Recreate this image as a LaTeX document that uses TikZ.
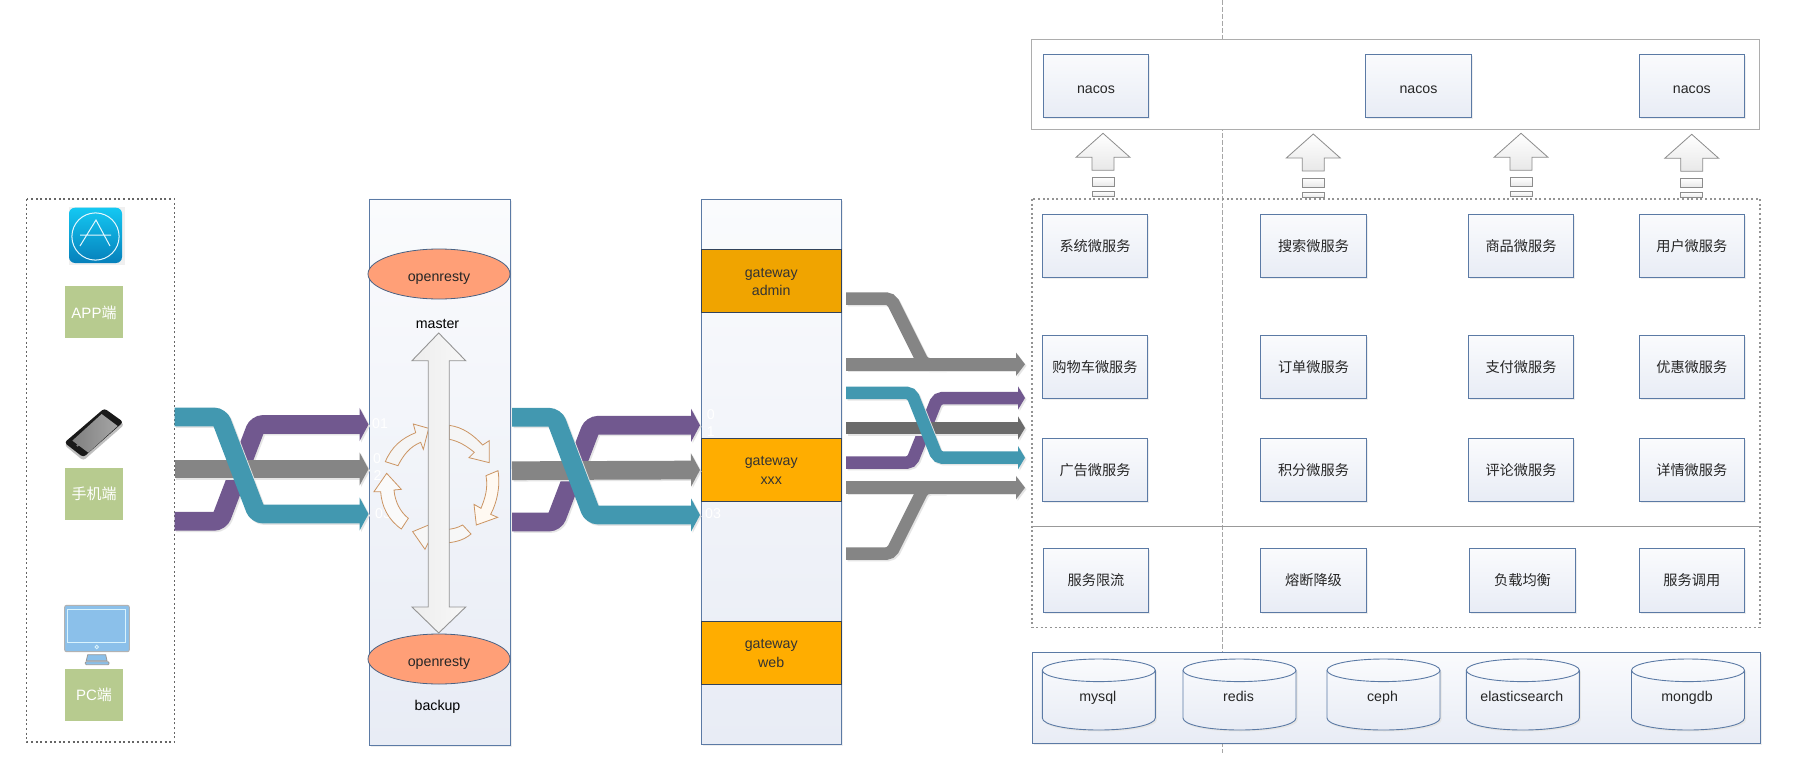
\documentclass[tikz,border=0pt]{standalone}
\usepackage{fontspec}
\setmainfont{Liberation Sans}
\newfontfamily\cjk{Noto Sans CJK SC}
\usetikzlibrary{shapes.geometric,arrows.meta,shadows,calc}
\definecolor{bluebd}{HTML}{5B7AA5}
\definecolor{gtop}{HTML}{FAFBFD}
\definecolor{gbot}{HTML}{E8ECF5}
\definecolor{teal1}{HTML}{4298B0}
\definecolor{purp1}{HTML}{71588F}
\definecolor{gray1}{HTML}{858585}
\definecolor{gray2}{HTML}{6B6B6B}
\definecolor{green1}{HTML}{B7CB8F}
\definecolor{sal}{HTML}{FF9F77}
\definecolor{circ}{HTML}{CB9462}
\definecolor{org1}{HTML}{F0A400}
\definecolor{org2}{HTML}{FFAD00}
\definecolor{mon}{HTML}{8BC0EA}
\definecolor{apptop}{HTML}{14C8F2}
\definecolor{appbot}{HTML}{0680BB}
\tikzset{
  softshadow/.style={drop shadow={opacity=.13,shadow xshift=1.6pt,shadow yshift=-1.6pt}},
  latintext/.style={text height=14.2pt,text depth=0pt},
  lbltext/.style={text height=10pt,text depth=2.8pt},
  gradbox/.style={rectangle,draw=bluebd,line width=.9pt,top color=gtop,bottom color=gbot,inner sep=0pt,text=black!85,font=\fontsize{14.2}{16}\selectfont},
  svc/.style={gradbox,softshadow,minimum width=105.4pt,minimum height=63.4pt},
  panel/.style={gradbox,softshadow},
  client/.style={rectangle,fill=green1,inner sep=0pt,minimum width=58pt,minimum height=52pt,text=white,font=\fontsize{15}{17}\selectfont},
  gw/.style={rectangle,draw=black!45!bluebd,line width=.8pt,inner sep=0pt,minimum width=140.3pt,minimum height=63.2pt},
  gwtext/.style={inner sep=0pt,align=center,text=black!80,font=\fontsize{14.2}{18.5}\selectfont},
  oval/.style={ellipse,draw=bluebd!80!black,line width=.8pt,fill=sal,inner sep=0pt,minimum width=142pt,minimum height=50pt,text=black!85,latintext,font=\fontsize{14.2}{16}\selectfont},
  dbtext/.style={inner sep=0pt,text=black!85,latintext,font=\fontsize{14.2}{16}\selectfont},
  dotbox/.style={line width=1.1pt,dash pattern=on 2pt off 2.6pt},
  lbl/.style={font=\fontsize{14.2}{16}\selectfont,inner sep=0pt,lbltext},
  wlbl/.style={lbl,text=white},
  blockarrow/.style={draw=black!45,line width=.8pt,top color=white,bottom color=black!9},
  ringarrow/.style={draw=circ,line width=.8pt,fill=#1},
  cylbody/.style={draw=bluebd,line width=.9pt,top color=gtop,bottom color=gbot},
}
\newcommand{\flowbig}[2]{%
  \draw[line width=18.7pt,rounded corners=6pt,draw=black!10,-{Triangle[length=9pt,width=33pt]},transform canvas={xshift=1.5pt,yshift=-1.5pt}] #2;
  \draw[line width=18.7pt,rounded corners=6pt,draw=#1,-{Triangle[length=9pt,width=33pt]}] #2;}
\newcommand{\flowsmall}[2]{%
  \draw[line width=12.5pt,rounded corners=5pt,draw=black!10,-{Triangle[length=#1,width=23pt]},transform canvas={xshift=1.5pt,yshift=-1.5pt}] #2;}
\newcommand{\flowsolid}[3]{%
  \draw[line width=12.5pt,rounded corners=5pt,draw=#2,-{Triangle[length=#1,width=23pt]}] #3;}
\newcommand{\flowthin}[3]{\flowsmall{#1}{#3}\flowsolid{#1}{#2}{#3}}
\newcommand{\flowmerge}[1]{%
  \draw[line width=12.5pt,rounded corners=5pt,draw=black!10,transform canvas={xshift=1.5pt,yshift=-1.5pt}] #1;
  \draw[line width=12.5pt,rounded corners=5pt,draw=gray1] #1;}
\newcommand{\stripedup}[2]{%
  \begin{scope}[shift={(#1,#2)}]
    \draw[blockarrow] (0,0)--(27,24)--(11,24)--(11,37)--(-11,37)--(-11,24)--(-27,24)--cycle;
    \draw[blockarrow] (-11,44) rectangle (11,53);
    \draw[blockarrow] (-11,58) rectangle (11,63.4);
  \end{scope}}
% centre x, node name, text
\newcommand{\dbcyl}[3]{%
  \begin{scope}[shift={(#1,0)}]
    \fill[black!10] (-55,672) .. controls (-55,665) and (-31,660.5) .. (1.5,660.5) .. controls (31,660.5) and (58,665) .. (58,672) -- (58,720) .. controls (58,727) and (31,731.5) .. (1.5,731.5) .. controls (-31,731.5) and (-55,727) .. (-55,720) -- cycle;
    \draw[cylbody] (-56.5,670.3) .. controls (-56.5,664) and (-31,659) .. (0,659) .. controls (31,659) and (56.5,664) .. (56.5,670.3) -- (56.5,718) .. controls (56.5,725) and (31,730) .. (0,730) .. controls (-31,730) and (-56.5,725) .. (-56.5,718) -- cycle;
    \draw[draw=bluebd,line width=.9pt] (-56.5,670.3) .. controls (-56.5,676.5) and (-31,681.6) .. (0,681.6) .. controls (31,681.6) and (56.5,676.5) .. (56.5,670.3);
  \end{scope}
  \node[dbtext] (#2) at (#1-1,694) {#3};}
\begin{document}
\begin{tikzpicture}[x=1pt,y=-1pt]
\useasboundingbox (0,0) rectangle (1817,773);
\fill[white] (0,0) rectangle (1817,773);

% centre guide
\coordinate (vtop) at (1222.3,0);
\coordinate (vbot) at (1222.3,752.7);
\draw[black!35,line width=.9pt,dash pattern=on 5pt off 2pt] (vtop)--(vbot);

% left client box
\draw[dotbox,draw=black!60] (26.7,199) rectangle (174.5,742);
% app icon
\fill[black!6] (69,207) rectangle (125,265);
\shade[top color=apptop,bottom color=appbot,rounded corners=6pt] (69,207.7) rectangle (122,263);
\draw[white!90!cyan,line width=1pt] (95.5,236.5) circle[radius=23.6];
\draw[white!90!cyan,line width=1pt] (80,246)--(96,220)--(110,246) (80,235)--(111,235);
\node[client] (app) at (94,312.4) {APP{\cjk 端}};
% phone
\begin{scope}[shift={(55,400)},x=.3333pt,y=-.3333pt]
  \fill[black!25,rounded corners=3pt] (28,135)--(148,30)--(208,74)--(85,182)--cycle;
  \fill[black!90,rounded corners=3pt] (28,128)--(148,25)--(205,66)--(85,172)--cycle;
  \shade[left color=black!50,right color=black!35] (52,122)--(140,42)--(188,78)--(100,158)--cycle;
  \fill[black!50] (68,136) circle[radius=4];
\end{scope}
\node[client] (phone) at (94,493.5) {{\cjk 手机端}};
% monitor
\draw[draw=black!30,line width=1pt,fill=mon,rounded corners=2pt] (64.7,605.3) rectangle (129.3,651.7);
\draw[draw=cyan!15,line width=.9pt] (67.3,609.3) rectangle (125.7,642.3);
\draw[draw=cyan!15,line width=.9pt] (96.7,647) circle[radius=1.8];
\draw[draw=black!40,line width=.8pt,fill=mon] (87.7,654.7)--(105.7,654.7)--(107,660.7)--(86.3,660.7)--cycle;
\draw[draw=black!40,line width=.8pt,fill=mon,rounded corners=1pt] (85.3,661.7) rectangle (109,664.7);
\node[client] (pc) at (94,695) {PC{\cjk 端}};

% openresty panel
\node[panel,minimum width=141pt,minimum height=546.7pt] (lb) at (439.5,472.3) {};
\node[oval] (or1) at (439,274) {openresty};
\node[oval] (or2) at (439,659) {openresty};
\node[lbl] (master) at (437.5,325) {master};
\node[lbl] (backup) at (437.5,706.5) {backup};

% gateway panel
\node[panel,minimum width=140.3pt,minimum height=544.7pt] (gwp) at (771.2,471.6) {};
\node[gw,fill=org1] (gw1) at (771.2,280.8) {};
\node[gw,fill=org2] (gw2) at (771.2,469.5) {};
\node[gw,fill=org2] (gw3) at (771.2,652.5) {};
\node[gwtext] (gw1t) at ([yshift=-1pt]gw1.center) {gateway\\admin};
\node[gwtext] (gw2t) at ([yshift=-1pt]gw2.center) {gateway\\xxx};
\node[gwtext] (gw3t) at ([yshift=-1pt]gw3.center) {gateway\\web};

% faint labels
\node[wlbl] at (380,424.5) {01};
\node[wlbl] at (377,460) {0};
\node[wlbl] at (377.5,477) {2};
\node[wlbl] at (383,515) {03};
\node[wlbl] at (710.7,416) {0};
\node[wlbl] at (710.7,433) {1};
\node[wlbl] at (713,515) {03};

% ring of arrows
\begin{scope}[shift={(370,410)},x=.3333pt,y=-.3333pt]
  \draw[ringarrow=black!4] (46,155) .. controls (65,110) and (95,85) .. (137,68) -- (130,42) -- (176,55) -- (160,118) -- (152,97) .. controls (120,110) and (100,135) .. (84,167) -- cycle;
  \draw[ringarrow=red!3!black!4] (238,46) .. controls (280,52) and (310,75) .. (338,105) -- (358,92) -- (358,158) -- (297,143) -- (313,127) .. controls (290,108) and (265,93) .. (238,88) -- cycle;
  \draw[ringarrow=orange!5] (348,197) -- (384,182) .. controls (392,230) and (380,280) .. (362,313) -- (383,322) -- (319,345) -- (312,283) -- (333,295) .. controls (345,265) and (355,235) .. (348,197) -- cycle;
  \draw[ringarrow=black!3] (303,372) -- (278,345) .. controls (262,354) and (250,356) .. (236,358) -- (236,398) .. controls (260,396) and (285,388) .. (303,372) -- cycle;
  \draw[ringarrow=black!3] (176,345) -- (128,365) -- (165,418) -- (176,396) -- cycle;
  \draw[ringarrow=black!2] (115,325) -- (94,357) .. controls (55,330) and (35,290) .. (32,245) -- (12,245) -- (50,190) -- (94,238) -- (72,240) .. controls (75,275) and (90,305) .. (115,325) -- cycle;
\end{scope}

% vertical double arrow
\draw[draw=black!42,line width=.9pt,left color=black!7,right color=black!3]
  (438.7,333)--(465.7,360.7)--(449.2,360.7)--(449.2,607)--(465.7,607)--(438.7,633)--(412,607)--(428.2,607)--(428.2,360.7)--(412,360.7)--cycle;

% flows client -> openresty
\coordinate (a1) at (174.5,417);
\coordinate (a2) at (174.5,469);
\coordinate (a3) at (174.5,521.3);
\coordinate (a4) at (368.5,424.5);
\coordinate (a5) at (368.5,469);
\coordinate (a6) at (368.5,514);
\flowbig{purp1}{(a3) -- (220,521.3) -- (257,424.5) -- (a4)}
\flowbig{gray1}{(a2) -- (a5)}
\flowbig{teal1}{(a1) -- (220,417) -- (257,514) -- (a6)}

% flows openresty -> gateway
\coordinate (b1) at (512,417.3);
\coordinate (b2) at (512,470.7);
\coordinate (b3) at (512,522);
\coordinate (b4) at (700,425.3);
\coordinate (b5) at (700,470);
\coordinate (b6) at (700,515);
\flowbig{purp1}{(b3) -- (555,522) -- (592,425.3) -- (b4)}
\flowbig{gray1}{(b2) -- (b5)}
\flowbig{teal1}{(b1) -- (555,417.3) -- (592,515) -- (b6)}

% flows gateway -> services
\coordinate (c1) at (846,298.5);
\coordinate (c2) at (846,364.3);
\coordinate (c3) at (846,392.8);
\coordinate (c4) at (846,428);
\coordinate (c5) at (846,462.7);
\coordinate (c6) at (846,487.7);
\coordinate (c7) at (846,553.7);
\coordinate (d2) at (1025,364.3);
\coordinate (d3) at (1025,398);
\coordinate (d4) at (1025,428);
\coordinate (d5) at (1025,457.7);
\coordinate (d6) at (1025,487.7);
\flowsmall{9pt}{(c2) -- (d2)}
\flowmerge{(c1) -- (891,298.5) -- (924,364.3) -- (945,364.3)}
\flowsolid{9pt}{gray1}{(c2) -- (d2)}
\flowthin{7pt}{purp1}{(c5) -- (911.5,462.7) -- (937.5,398) -- (d3)}
\flowthin{7pt}{gray2}{(c4) -- (d4)}
\flowthin{7pt}{teal1}{(c3) -- (911.5,392.8) -- (937.5,457.7) -- (d5)}
\flowsmall{9pt}{(c6) -- (d6)}
\flowmerge{(c7) -- (891,553.7) -- (924,487.7) -- (945,487.7)}
\flowsolid{9pt}{gray1}{(c6) -- (d6)}

% nacos
\node[rectangle,draw=black!32,line width=1pt,fill=white,inner sep=0pt,minimum width=727.7pt,minimum height=90pt] (nacosp) at (1395.8,85) {};
\node[svc,latintext] (n1) at (1096,86) {nacos};
\node[svc,latintext] (n2) at (1418.5,86) {nacos};
\node[svc,latintext] (n3) at (1691.8,86) {nacos};

% arrows up
\stripedup{1103}{133.3}
\stripedup{1313.3}{134}
\stripedup{1521}{133.3}
\stripedup{1691.7}{134.3}

% services box
\draw[dotbox,draw=black!42] (1032,199) rectangle (1760,627.3);
\coordinate (s1) at (1032,526.7);
\coordinate (s2) at (1760,526.7);
\draw[draw=black!40,line width=1pt] (s1)--(s2);

\node[svc] (m1) at (1095,246) {\cjk 系统微服务};
\node[svc] (m2) at (1313.5,246) {\cjk 搜索微服务};
\node[svc] (m3) at (1521,246) {\cjk 商品微服务};
\node[svc] (m4) at (1691.8,246) {\cjk 用户微服务};
\node[svc] (m5) at (1095,367) {\cjk 购物车微服务};
\node[svc] (m6) at (1313.5,367) {\cjk 订单微服务};
\node[svc] (m7) at (1521,367) {\cjk 支付微服务};
\node[svc] (m8) at (1691.8,367) {\cjk 优惠微服务};
\node[svc] (m9) at (1095,470) {\cjk 广告微服务};
\node[svc] (m10) at (1313.5,470) {\cjk 积分微服务};
\node[svc] (m11) at (1521,470) {\cjk 评论微服务};
\node[svc] (m12) at (1691.8,470) {\cjk 详情微服务};
\node[svc] (g1) at (1096,580.3) {\cjk 服务限流};
\node[svc] (g2) at (1313.5,580.3) {\cjk 熔断降级};
\node[svc,minimum width=106.4pt] (g3) at (1522.5,580.3) {\cjk 负载均衡};
\node[svc] (g4) at (1691.8,580.3) {\cjk 服务调用};

% storage
\node[panel,minimum width=728.3pt,minimum height=91pt] (dbp) at (1396.2,698.2) {};
\dbcyl{1098.8}{db1}{mysql}
\dbcyl{1239.5}{db2}{redis}
\dbcyl{1383.5}{db3}{ceph}
\dbcyl{1522.8}{db4}{elasticsearch}
\dbcyl{1688}{db5}{mongdb}
\end{tikzpicture}
\end{document}
